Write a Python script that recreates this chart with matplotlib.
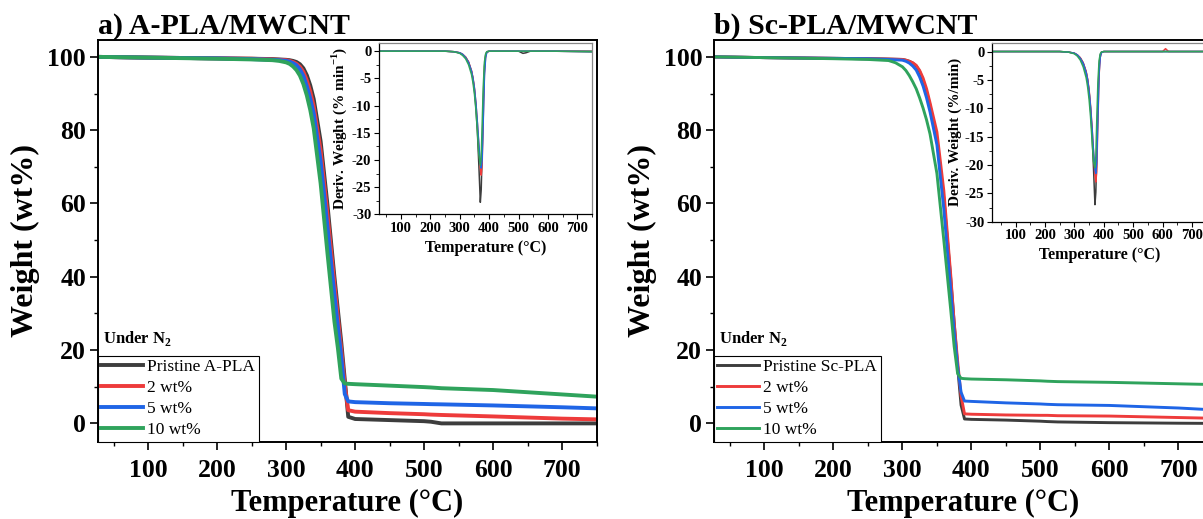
import matplotlib
matplotlib.use('Agg')
import matplotlib.pyplot as plt
from matplotlib.ticker import MultipleLocator

plt.rcParams['font.family'] = ['Liberation Serif', 'DejaVu Serif']
plt.rcParams['font.weight'] = 'bold'
plt.rcParams['axes.unicode_minus'] = False
plt.rcParams['mathtext.fontset'] = 'custom'
plt.rcParams['mathtext.rm'] = 'Liberation Serif:bold'
plt.rcParams['mathtext.bf'] = 'Liberation Serif:bold'

# ---- TGA curves (weight %) ----
temps = [27, 100, 200, 250, 280, 290, 300, 305, 310, 315, 320, 325, 330, 335, 340,
         350, 360, 370, 375, 380, 385, 390, 400, 450, 500, 510, 525, 600, 700, 750]

a_pristine = [100.0, 99.8, 99.6, 99.5, 99.4, 99.3, 99.2, 99.1, 98.9, 98.6, 98.0, 96.9, 95.0, 92.2, 88.5,
              77.0, 59.5, 40.0, 31.0, 22.0, 12.0, 1.8, 1.2, 0.9, 0.6, 0.45, 0.0, 0.0, 0.0, 0.0]
a_2wt = [100.0, 99.8, 99.6, 99.5, 99.3, 99.2, 99.1, 98.9, 98.6, 98.1, 97.3, 95.9, 93.6, 90.5, 86.5,
         74.5, 57.0, 38.0, 29.0, 20.0, 10.5, 3.6, 3.2, 2.8, 2.5, 2.4, 2.3, 1.9, 1.3, 1.1]
a_5wt = [100.0, 99.8, 99.6, 99.4, 99.2, 99.1, 98.9, 98.7, 98.3, 97.7, 96.6, 94.8, 92.0, 88.6, 84.5,
         71.5, 53.5, 35.0, 26.5, 18.0, 8.0, 6.0, 5.8, 5.5, 5.3, 5.25, 5.2, 4.9, 4.4, 4.1]
a_10wt = [100.0, 99.8, 99.5, 99.3, 99.1, 98.9, 98.5, 98.1, 97.4, 96.4, 94.9, 92.6, 89.5, 85.5, 80.5,
          65.5, 46.3, 27.8, 20.6, 12.2, 10.9, 10.8, 10.7, 10.3, 9.9, 9.8, 9.6, 9.1, 7.9, 7.3]

b_pristine = [100.0, 99.8, 99.6, 99.5, 99.4, 99.35, 99.3, 99.1, 98.8, 98.3, 97.5, 96.0, 93.6, 90.5, 86.8,
              77.5, 61.5, 39.5, 27.5, 15.5, 5.0, 1.2, 1.1, 0.9, 0.6, 0.5, 0.4, 0.2, 0.05, 0.0]
b_2wt = [100.0, 99.8, 99.6, 99.5, 99.4, 99.35, 99.3, 99.1, 98.8, 98.4, 97.7, 96.3, 94.2, 91.3, 87.5,
         79.5, 63.5, 40.5, 27.5, 17.0, 7.5, 2.6, 2.5, 2.3, 2.2, 2.2, 2.1, 2.0, 1.6, 1.4]
b_5wt = [100.0, 99.8, 99.6, 99.5, 99.3, 99.2, 99.1, 98.8, 98.3, 97.5, 96.4, 94.5, 92.0, 88.8, 85.0,
         76.0, 58.5, 36.5, 25.0, 15.5, 8.5, 6.1, 6.0, 5.6, 5.3, 5.2, 5.1, 4.9, 4.2, 3.7]
b_10wt = [100.0, 99.8, 99.5, 99.3, 99.0, 98.4, 97.3, 96.3, 94.9, 93.2, 91.3, 88.8, 86.0, 82.8, 79.0,
          68.2, 50.0, 31.0, 21.0, 13.6, 12.3, 12.2, 12.1, 11.9, 11.6, 11.5, 11.4, 11.2, 10.8, 10.6]

# ---- DTG curves (inset, %/min) ----
dtg_temps = [25, 100, 200, 250, 280, 300, 310, 320, 330, 340, 345, 350, 355, 360, 365,
             370, 373, 376, 380, 384, 388, 392, 400, 500, 515, 525, 540, 600, 610, 620, 750]

a_dtg_pristine = [0, 0, 0, 0, -0.1, -0.3, -0.6, -1.1, -2.0, -3.7, -5.1, -7.2, -10.4, -14.8, -21.0,
                  -27.8, -25.5, -19.0, -9.0, -2.8, -0.7, -0.1, 0, 0, -0.4, -0.3, 0, 0, 0, 0, 0]
a_dtg_2wt = [0, 0, 0, 0, -0.1, -0.3, -0.6, -1.1, -2.0, -3.6, -4.9, -6.8, -9.6, -13.3, -17.5,
             -21.5, -22.8, -21.0, -12.0, -4.0, -1.0, -0.2, 0, 0, 0, 0, 0, 0, 0, 0, -0.1]
a_dtg_5wt = [0, 0, 0, 0, -0.1, -0.3, -0.6, -1.2, -2.1, -3.7, -5.0, -6.9, -9.6, -13.2, -17.2,
             -20.6, -21.5, -20.0, -12.5, -4.5, -1.2, -0.2, 0, 0, 0, 0, 0, 0, 0, 0, -0.1]
a_dtg_10wt = [0, 0, 0, 0, -0.1, -0.4, -0.8, -1.4, -2.5, -4.3, -5.8, -7.9, -10.8, -14.8, -19.0,
              -21.0, -19.5, -14.0, -6.5, -2.0, -0.5, -0.1, 0, 0, 0, 0, 0, 0, 0, 0, -0.1]

b_dtg_pristine = [0, 0, 0, 0, -0.1, -0.3, -0.6, -1.1, -2.0, -3.6, -5.0, -7.0, -10.1, -14.4, -20.5,
                  -27.0, -24.8, -18.5, -8.5, -2.6, -0.6, -0.1, 0, 0, 0, 0, 0, 0, 0, 0, 0]
b_dtg_2wt = [0, 0, 0, 0, -0.1, -0.3, -0.6, -1.1, -2.0, -3.5, -4.8, -6.7, -9.5, -13.2, -17.6,
             -21.8, -23.0, -21.2, -12.5, -4.2, -1.0, -0.2, 0, 0, 0, 0, 0, 0, 0.5, 0, 0]
b_dtg_5wt = [0, 0, 0, 0, -0.1, -0.3, -0.6, -1.2, -2.1, -3.7, -5.0, -7.0, -9.8, -13.5, -17.6,
             -20.8, -21.5, -19.5, -11.5, -3.8, -1.0, -0.2, 0, 0, 0, 0, 0, 0, 0, 0, 0]
b_dtg_10wt = [0, 0, 0, 0, -0.1, -0.4, -0.8, -1.5, -2.7, -4.6, -6.2, -8.4, -11.5, -15.5, -19.3,
              -20.5, -18.5, -12.5, -5.5, -1.6, -0.4, -0.1, 0, 0, 0, 0, 0, 0, 0, 0, 0]

labels_a = ['Pristine A-PLA', '2 wt%', '5 wt%', '10 wt%']
labels_b = ['Pristine Sc-PLA', '2 wt%', '5 wt%', '10 wt%']
colors = ['#3d3d3d', '#ee3b3b', '#1f65e6', '#2fa35c']

fig = plt.figure(figsize=(12.03, 5.19), dpi=100)


def main_panel(rect, title, series, labels, lw):
    ax = fig.add_axes(rect)
    for w, lab, c in zip(series, labels, colors):
        ax.plot(temps, w, color=c, lw=lw, label=lab, solid_joinstyle='round')
    ax.set_xlim(27, 750)
    ax.set_ylim(-5, 104.6)
    ax.xaxis.set_major_locator(MultipleLocator(100))
    ax.xaxis.set_minor_locator(MultipleLocator(50))
    ax.yaxis.set_major_locator(MultipleLocator(20))
    ax.yaxis.set_minor_locator(MultipleLocator(10))
    ax.tick_params(which='major', direction='out', length=5.5, width=1.2, labelsize=18.5)
    ax.tick_params(which='minor', direction='out', length=3, width=1.0)
    ax.tick_params(axis='x', pad=7)
    ax.tick_params(axis='y', pad=3)
    for s in ax.spines.values():
        s.set_linewidth(1.4)
    ax.set_xlabel('Temperature (°C)', fontsize=22, fontweight='bold', labelpad=5)
    ax.set_ylabel('Weight (wt%)', fontsize=23, fontweight='bold', labelpad=5)
    ax.set_title(title, loc='left', fontsize=21.5, fontweight='bold', pad=2)
    leg = ax.legend(loc='lower left', bbox_to_anchor=(0, 0), borderaxespad=0,
                    fancybox=False, edgecolor='black', framealpha=1,
                    handlelength=2.4, handletextpad=0.25, labelspacing=0.28,
                    borderpad=0.2,
                    prop={'family': 'Liberation Serif', 'weight': 'normal', 'size': 12.5})
    leg.get_frame().set_linewidth(0.8)
    ax.text(0.011, 0.246, r'Under N$_{\mathbf{2}}$', transform=ax.transAxes,
            fontsize=12, fontweight='bold', ha='left', va='baseline')
    return ax


def inset(rect, xlim, series, ylabel):
    ax = fig.add_axes(rect)
    for d, c in zip(series, colors):
        ax.plot(dtg_temps, d, color=c, lw=1.1)
    ax.set_xlim(*xlim)
    ax.set_ylim(-30, 1.5)
    ax.set_xticks(range(100, 800, 100))
    ax.xaxis.set_minor_locator(MultipleLocator(50))
    ax.yaxis.set_major_locator(MultipleLocator(5))
    ax.yaxis.set_minor_locator(MultipleLocator(2.5))
    ax.tick_params(which='major', direction='out', length=3.5, width=0.8, labelsize=10.5, pad=2)
    ax.tick_params(which='minor', direction='out', length=2, width=0.6)
    for side in ('left', 'bottom'):
        ax.spines[side].set_linewidth(0.9)
    for side in ('top', 'right'):
        ax.spines[side].set_color('#888888')
        ax.spines[side].set_linewidth(0.9)
    ax.set_xlabel('Temperature (°C)', fontsize=11.5, fontweight='bold', labelpad=3.5)
    ax.set_ylabel(ylabel, fontsize=11, fontweight='bold', labelpad=2)
    return ax


main_panel([0.0812, 0.1489, 0.4148, 0.774], 'a) A-PLA/MWCNT',
           [a_pristine, a_2wt, a_5wt, a_10wt], labels_a, 2.8)
main_panel([0.5935, 0.1489, 0.4148, 0.774], 'b) Sc-PLA/MWCNT',
           [b_pristine, b_2wt, b_5wt, b_10wt], labels_b, 2.1)

inset([0.315, 0.5871, 0.1771, 0.330], (25, 750),
      [a_dtg_pristine, a_dtg_2wt, a_dtg_5wt, a_dtg_10wt],
      r'Deriv. Weight (% min$^{\mathbf{-1}}$)')
inset([0.8246, 0.5728, 0.1785, 0.3443], (20, 750),
      [b_dtg_pristine, b_dtg_2wt, b_dtg_5wt, b_dtg_10wt],
      'Deriv. Weight (%/min)')

fig.savefig('out.png', dpi=100)
